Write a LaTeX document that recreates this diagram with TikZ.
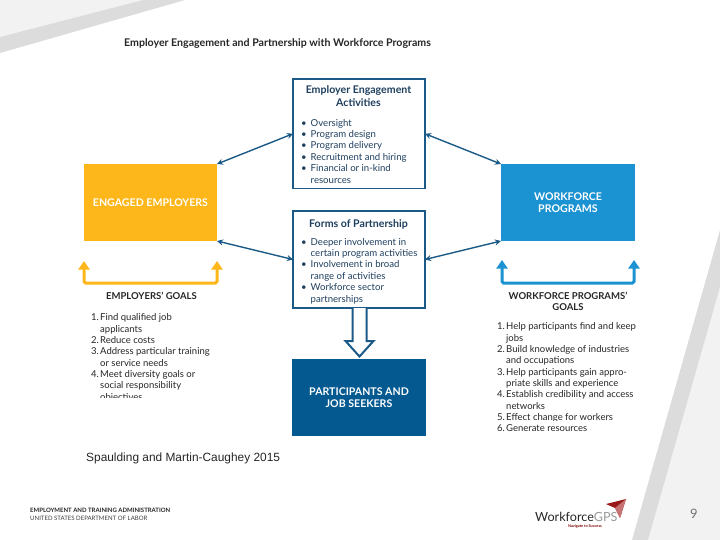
\documentclass[tikz,border=0pt]{standalone}
\usepackage{fontspec}
\setmainfont{Lato}
\newfontfamily\arialfont{Liberation Sans}
\usetikzlibrary{arrows.meta}
\definecolor{navy}{HTML}{1B5A86}
\definecolor{txtblue}{HTML}{1F3F5F}
\definecolor{yel}{HTML}{FDB71A}
\definecolor{sky}{HTML}{1B92D1}
\definecolor{deep}{HTML}{045A90}
\definecolor{bandd}{HTML}{DCDCDC}
\definecolor{bandl}{HTML}{F2F2F2}
\newcommand{\bul}[1]{\makebox[9.5pt][l]{\textbullet}#1}
\newcommand{\bulc}[1]{\hspace*{9.5pt}#1}
\newcommand{\numl}[2]{\makebox[9pt][l]{#1}#2}
\newcommand{\numc}[1]{\hspace*{9pt}#1}
\tikzset{
 panel/.style={draw=navy,line width=1.8pt,fill=white,anchor=north west,inner sep=0pt,outer sep=0pt},
 colorbox/.style={anchor=north west,inner sep=0pt,outer sep=0pt,minimum width=#1,text=white,font=\fontsize{10.6}{12}\selectfont\bfseries,align=center},
 body/.style={anchor=north west,inner sep=0pt,align=left,text=black!85,font=\fontsize{9.5}{11.35}\selectfont},
 boxtitle/.style={anchor=north,inner sep=0pt,align=center,text=txtblue,font=\fontsize{10.6}{13}\selectfont\bfseries},
 boxbody/.style={anchor=north west,inner sep=0pt,align=left,text=txtblue,font=\fontsize{9.6}{11.35}\selectfont},
 goalhead/.style={anchor=north,inner sep=0pt,align=center,text=black!85,font=\fontsize{9.5}{11}\selectfont\bfseries},
 link/.style={draw=navy,line width=1.4pt,{Stealth[length=6pt,width=6pt]}-{Stealth[length=6pt,width=6pt]}},
 uarrow/.style={line width=3pt,{Triangle[length=8.5pt,width=11pt]}-{Triangle[length=8.5pt,width=11pt]},rounded corners=1.5pt}
}
\begin{document}
\begin{tikzpicture}[x=1pt,y=-1pt]
\useasboundingbox (0,0) rectangle (720,540);
% slide decoration
\fill[bandl] (0,0) -- (143,0) -- (0,37) -- cycle;
\fill[bandd] (143,0) -- (185,0) -- (0,53) -- (0,37) -- cycle;
\fill[bandl] (720,287) -- (648,540) -- (720,540) -- cycle;
\fill[bandd] (720,230) -- (720,287) -- (648,540) -- (632,540) -- cycle;
% title
\node[anchor=west,inner sep=0pt,font=\fontsize{10.6}{12}\selectfont\bfseries,text=black!85] (title) at (124,44) {Employer Engagement and Partnership with Workforce Programs};
% boxes
\node[panel,minimum width=132pt,minimum height=109.5pt] (act) at (293,79) {};
\node[boxtitle] (acttitle) at (358.5,85.5) {Employer Engagement\\Activities};
\node[boxbody] (actbody) at (301,119) {\bul{Oversight}\\\bul{Program design}\\\bul{Program delivery}\\\bul{Recruitment and hiring}\\\bul{Financial or in-kind}\\\bulc{resources}};
\node[panel,minimum width=132pt,minimum height=97pt] (forms) at (293,211) {};
\node[boxtitle] (formstitle) at (358.5,219.5) {Forms of Partnership};
\node[boxbody] (formsbody) at (301,238) {\bul{Deeper involvement in}\\\bulc{certain program activities}\\\bul{Involvement in broad}\\\bulc{range of activities}\\\bul{Workforce sector}\\\bulc{partnerships}};
\node[colorbox=133pt,fill=yel,minimum height=77pt] (eng) at (84,164) {ENGAGED EMPLOYERS};
\node[colorbox=134pt,fill=sky,minimum height=77pt] (wf) at (501,164) {WORKFORCE\\PROGRAMS};
\node[colorbox=134pt,fill=deep,minimum height=77pt] (part) at (292,359) {PARTICIPANTS AND\\JOB SEEKERS};
% two-headed links
\draw[link] (eng.north east) -- (act.west);
\draw[link] (wf.north west) -- (act.east);
\draw[link] (eng.south east) -- (forms.west);
\draw[link] (wf.south west) -- (forms.east);
% hollow block arrow
\draw[navy,line width=2pt,fill=white,line join=miter] ([xshift=-6.5pt]forms.south) -- ++(0,33) -- ++(-7,0) -- ++(14,15.5) -- ++(14,-15.5) -- ++(-7,0) -- ([xshift=7.5pt]forms.south);
% goal U arrows
\coordinate (yl) at (84,283); \coordinate (yr) at (217,283);
\coordinate (bl) at (502,283); \coordinate (br) at (634,283);
\draw[uarrow,yel] (84,261) -- (yl) -- (yr) -- (217,261);
\draw[uarrow,sky] (502,260) -- (bl) -- (br) -- (634,260);
% goals
\node[goalhead] (eh) at (151.5,292) {EMPLOYERS’ GOALS};
\begin{scope}
\clip (80,305) rectangle (260,397.5);
\node[body] (el) at (91,313.5) {\numl{1.}{Find qualified job}\\\numc{applicants}\\\numl{2.}{Reduce costs}\\\numl{3.}{Address particular training}\\\numc{or service needs}\\\numl{4.}{Meet diversity goals or}\\\numc{social responsibility}\\\numc{objectives}};
\end{scope}
\node[goalhead] (wh) at (568,291.5) {WORKFORCE PROGRAMS’\\GOALS};
\begin{scope}
\clip (490,320) rectangle (660,420) (490,424) rectangle (660,431.5);
\node[body] (wl) at (497,322.5) {\numl{1.}{Help participants find and keep}\\\numc{jobs}\\\numl{2.}{Build knowledge of industries}\\\numc{and occupations}\\\numl{3.}{Help participants gain appro-}\\\numc{priate skills and experience}\\\numl{4.}{Establish credibility and access}\\\numc{networks}\\\numl{5.}{Effect change for workers}\\\numl{6.}{Generate resources}};
\end{scope}
% caption & footer
\node[anchor=west,inner sep=0pt,font=\fontsize{11.9}{13}\arialfont,text=black!85] (cap) at (86,458) {Spaulding and Martin-Caughey 2015};
\node[anchor=west,inner sep=0pt,font=\fontsize{6}{7}\selectfont\bfseries,text=black!85] (f1) at (30,510.5) {EMPLOYMENT AND TRAINING ADMINISTRATION};
\node[anchor=west,inner sep=0pt,font=\fontsize{6.05}{7}\selectfont,text=black!75] (f2) at (30,518.5) {UNITED STATES DEPARTMENT OF LABOR};
\node[anchor=center,inner sep=0pt,font=\fontsize{13}{14}\selectfont,text=black!55] (pg) at (694,514) {9};
% logo
\fill[red!55!black!90] (626,499) -- (606,504) -- (615,508) -- (620,518) -- cycle;
\fill[red!60!black!55] (626,499) -- (615,508) -- (620,518) -- cycle;
\node[anchor=base west,inner sep=0pt,font=\fontsize{12.6}{14}\selectfont,text=black!85] (wfg) at (535,521) {Workforce\textcolor{black!40}{GPS}};
\node[anchor=center,inner sep=0pt,font=\fontsize{3.8}{5}\selectfont\bfseries,text=red!50!black] (nav) at (585,526.5) {Navigate to Success};
\end{tikzpicture}
\end{document}
